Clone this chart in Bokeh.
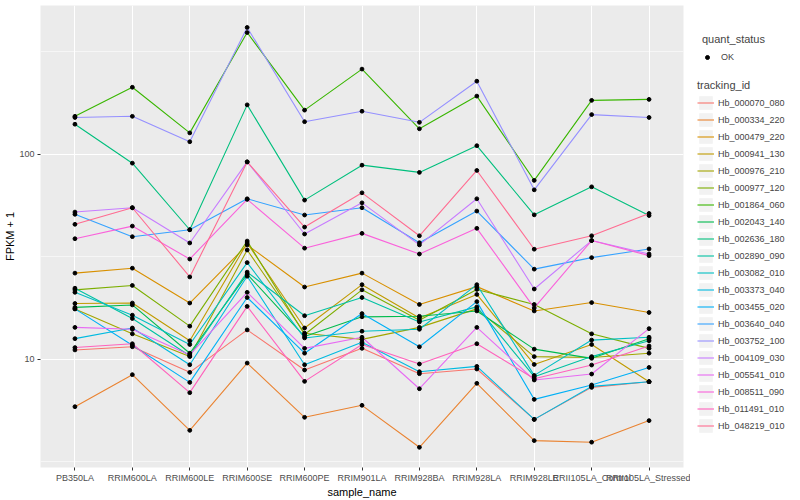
from bokeh.plotting import figure
from bokeh.layouts import row
from bokeh.models import (FactorRange, Range1d, FixedTicker, Legend, LegendItem,
                          ColumnDataSource)
from bokeh.embed import file_html
from bokeh.resources import INLINE

samples = ["PB350LA", "RRIM600LA", "RRIM600LE", "RRIM600SE", "RRIM600PE",
           "RRIM901LA", "RRIM928BA", "RRIM928LA", "RRIM928LE",
           "RRII105LA_Control", "RRII105LA_Stressed"]

tracking_ids = ["Hb_000070_080", "Hb_000334_220", "Hb_000479_220", "Hb_000941_130",
                "Hb_000976_210", "Hb_000977_120", "Hb_001864_060", "Hb_002043_140",
                "Hb_002636_180", "Hb_002890_090", "Hb_003082_010", "Hb_003373_040",
                "Hb_003455_020", "Hb_003640_040", "Hb_003752_100", "Hb_004109_030",
                "Hb_005541_010", "Hb_008511_090", "Hb_011491_010", "Hb_048219_010"]

colors = ["#F8766D", "#EA8331", "#D89000", "#C09B00", "#A3A500", "#7CAE00",
          "#39B600", "#00BB4E", "#00BF7D", "#00C1A3", "#00BFC4", "#00BAE0",
          "#00B0F6", "#35A2FF", "#9590FF", "#C77CFF", "#E76BF3", "#FA62DB",
          "#FF62BC", "#FF6C91"]

# FPKM + 1 per sample, in sample order
hb_000070_080 = [11.1, 11.5, 8.63, 13.9, 8.86, 11.3, 8.50, 8.96, 5.09, 7.29, 7.77]
hb_000334_220 = [5.87, 8.41, 4.50, 9.58, 5.21, 5.96, 3.72, 7.63, 4.01, 3.94, 5.02]
hb_000479_220 = [26.3, 27.8, 18.8, 36.1, 22.5, 26.3, 18.5, 22.6, 17.2, 18.9, 16.9]
hb_000941_130 = [18.7, 18.8, 12.3, 36.9, 14.2, 23.1, 15.9, 20.7, 9.43, 11.8, 7.77]
hb_000976_210 = [17.6, 13.3, 10.3, 34.1, 13.4, 12.5, 14.3, 17.6, 10.3, 10.2, 10.7]
hb_000977_120 = [21.8, 22.9, 14.5, 37.7, 13.2, 21.8, 15.5, 21.9, 18.5, 13.3, 11.3]
hb_001864_060 = [153, 212, 127, 392, 164, 260, 133, 192, 74.5, 183, 185]
hb_002043_140 = [17.9, 18.4, 10.7, 26.0, 12.9, 16.1, 16.2, 17.2, 11.2, 10.1, 12.6]
hb_002636_180 = [140, 90.4, 42.8, 174, 59.7, 88.4, 81.5, 110, 50.6, 69.3, 50.2]
hb_002890_090 = [22.2, 15.8, 10.4, 26.6, 16.3, 20.0, 15.2, 18.0, 8.22, 10.3, 12.3]
hb_003082_010 = [21.2, 16.4, 11.8, 29.6, 12.7, 13.7, 14.0, 23.1, 8.34, 12.4, 12.8]
hb_003373_040 = [12.6, 14.2, 9.40, 25.4, 9.40, 12.1, 8.69, 9.23, 5.09, 7.37, 7.77]
hb_003455_020 = [17.6, 11.7, 7.71, 20.0, 10.7, 16.7, 11.5, 19.1, 6.37, 7.49, 9.12]
hb_003640_040 = [50.9, 39.6, 42.8, 60.6, 50.5, 54.8, 37.0, 52.8, 27.5, 31.3, 34.5]
hb_003752_100 = [151, 153, 115, 415, 144, 162, 143, 227, 67.0, 156, 151]
hb_004109_030 = [52.2, 54.8, 36.9, 91.7, 40.8, 57.9, 36.1, 60.6, 22.0, 37.9, 32.6]
hb_005541_010 = [14.3, 14.0, 10.5, 21.2, 11.3, 12.8, 7.18, 14.3, 7.92, 8.47, 14.1]
hb_008511_090 = [38.7, 44.6, 30.8, 60.2, 34.8, 41.1, 32.6, 43.5, 17.8, 37.9, 32.0]
hb_011491_010 = [11.4, 11.9, 6.87, 18.1, 7.80, 11.8, 9.48, 11.9, 8.04, 9.37, 11.6]
hb_048219_010 = [45.5, 54.8, 25.2, 91.7, 44.1, 64.8, 40.0, 83.3, 34.4, 40.0, 51.4]

series = [hb_000070_080, hb_000334_220, hb_000479_220, hb_000941_130, hb_000976_210,
          hb_000977_120, hb_001864_060, hb_002043_140, hb_002636_180, hb_002890_090,
          hb_003082_010, hb_003373_040, hb_003455_020, hb_003640_040, hb_003752_100,
          hb_004109_030, hb_005541_010, hb_008511_090, hb_011491_010, hb_048219_010]

FONT = "Liberation Sans"

p = figure(width=690, height=500, output_backend="svg", toolbar_location=None,
           x_range=FactorRange(factors=samples, range_padding=0.1,
                               range_padding_units="absolute"),
           y_range=Range1d(2.965, 531), y_axis_type="log",
           min_border_left=40, min_border_right=7, min_border_top=5,
           min_border_bottom=32)

p.background_fill_color = "#EBEBEB"
p.border_fill_color = "white"
p.outline_line_color = None

p.yaxis.ticker = FixedTicker(ticks=[10, 100], minor_ticks=[10 ** 0.5, 10 ** 1.5, 10 ** 2.5])
p.yaxis.major_label_overrides = {10: "10", 100: "100"}
for ax in (p.xaxis, p.yaxis):
    ax.axis_line_color = None
    ax.major_tick_line_color = "#333333"
    ax.major_tick_in = 0
    ax.major_tick_out = 3
    ax.minor_tick_line_color = None
    ax.major_label_text_font = FONT
    ax.major_label_text_font_size = "9px"
    ax.major_label_text_color = "#4D4D4D"
    ax.major_label_standoff = 2
    ax.axis_label_text_font = FONT
    ax.axis_label_text_font_size = "11px"
    ax.axis_label_text_font_style = "normal"
    ax.axis_label_text_color = "black"
    ax.axis_label_standoff = 0
p.xaxis.axis_label = "sample_name"
p.yaxis.axis_label = "FPKM + 1"

p.xgrid.grid_line_color = "white"
p.xgrid.grid_line_width = 1.1
p.ygrid.grid_line_color = "white"
p.ygrid.grid_line_width = 1.1
p.ygrid.minor_grid_line_color = "white"
p.ygrid.minor_grid_line_width = 0.55

for col, vals in zip(colors, series):
    src = ColumnDataSource(dict(x=samples, y=vals))
    p.line("x", "y", source=src, line_color=col, line_width=1.1)

all_x = [s for vals in series for s in samples]
all_y = [v for vals in series for v in vals]
p.scatter(all_x, all_y, size=3.8, color="black")

# legend panel (key glyphs sit outside its visible range, only the legend shows them)
p2 = figure(width=110, height=500, output_backend="svg", toolbar_location=None,
            x_axis_location=None, y_axis_location=None, min_border=0,
            x_range=Range1d(0, 1), y_range=Range1d(0, 1))
p2.grid.visible = False
p2.outline_line_color = None
p2.background_fill_color = "white"

bg = p2.quad(left=[-10], right=[-9], top=[-9], bottom=[-10],
             fill_color="#F2F2F2", line_color=None)
key_pts = p2.scatter(x=[-10], y=[-10], size=3.8, color="black")
line_items = []
for tid, col in zip(tracking_ids, colors):
    kr = p2.line(x=[-10, -9], y=[-10, -10], line_color=col, line_width=1.1)
    line_items.append(LegendItem(label=tid, renderers=[bg, kr]))

common = dict(spacing=0, padding=0, margin=0, border_line_color=None,
              background_fill_alpha=0, label_text_font=FONT, label_text_font_size="9px",
              label_height=17, title_text_font=FONT, title_text_font_size="11px",
              title_text_font_style="normal", title_standoff=3)

leg1 = Legend(items=[LegendItem(label="OK", renderers=[key_pts])],
              title="quant_status", location=(12, 402), glyph_width=10, glyph_height=10,
              label_standoff=9, **common)
leg2 = Legend(items=line_items, title="tracking_id", location=(7, 33),
              glyph_width=17, glyph_height=17, label_standoff=4, **common)
p2.add_layout(leg1)
p2.add_layout(leg2)

layout = row(p, p2, spacing=0)
open("out.html", "w").write(file_html(layout, INLINE))
